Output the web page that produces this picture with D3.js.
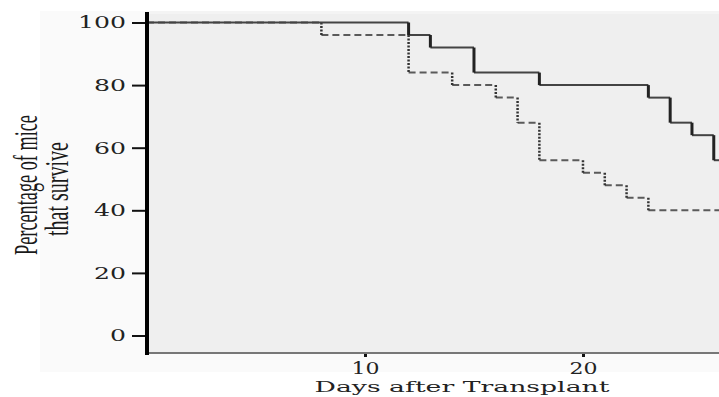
<!DOCTYPE html>
<html>
<head>
<meta charset="utf-8">
<script src="https://cdn.jsdelivr.net/npm/d3@7"></script>
<style>
  html, body { margin: 0; padding: 0; background: #fff; }
  svg { display: block; }
</style>
</head>
<body>
<div id="chart"></div>
<script>
// survival data (days, % alive)
var solidDays = [0, 12, 13, 15, 18, 23, 24, 25, 26];
var solidSurvival = [100, 96, 92, 84, 80, 76, 68, 64, 56];
var dashedDays = [0, 8, 12, 14, 16, 17, 18, 20, 21, 22, 23];
var dashedSurvival = [100, 96, 84, 80, 76, 68, 56, 52, 48, 44, 40];
var yTicks = [0, 20, 40, 60, 80, 100];
var xTicks = [10, 20];
var xLabel = "Days after Transplant";
var yLabelLines = ["Percentage of mice", "that survive"];

var width = 719,
    height = 397,
    axisX = 147,
    axisY = 353,
    plotTop = 11,
    maxDay = 26.24;

var svg = d3.select("#chart")
  .append("svg")
  .attr("width", width)
  .attr("height", height);

var xScale = d3.scaleLinear().domain([0, maxDay]).range([axisX, width]);
var yScale = d3.scaleLinear().domain([0, 100]).range([335.5, 22.5]);

// faint outer panel + grey plot area
svg.append("rect")
  .attr("x", 40).attr("y", plotTop)
  .attr("width", width - 40).attr("height", 361)
  .style("fill", "#fafafa");
svg.append("rect")
  .attr("x", axisX).attr("y", plotTop)
  .attr("width", width - axisX).attr("height", axisY - plotTop)
  .style("fill", "#f4f4f4");
svg.append("rect")
  .attr("x", axisX).attr("y", plotTop + 3)
  .attr("width", width - axisX).attr("height", axisY - plotTop - 3)
  .style("fill", "#efefef");

// split a step curve into horizontal + vertical pieces
function steps(days, vals) {
  var h = [], v = [];
  for (var i = 0; i < days.length; i++) {
    var end = i < days.length - 1 ? days[i + 1] : maxDay;
    h.push({x0: days[i], x1: end, y: vals[i]});
    if (i < days.length - 1) v.push({x: days[i + 1], y0: vals[i], y1: vals[i + 1]});
  }
  return {h: h, v: v};
}

function drawCurve(days, vals, hStyle, vStyle) {
  var s = steps(days, vals);
  var g = svg.append("g");
  g.selectAll(".h")
    .data(s.h)
    .enter().append("line")
    .attr("x1", d => xScale(d.x0))
    .attr("x2", d => xScale(d.x1))
    .attr("y1", d => yScale(d.y))
    .attr("y2", d => yScale(d.y))
    .style("stroke", hStyle.color)
    .style("stroke-width", hStyle.w)
    .style("stroke-dasharray", hStyle.dash);
  g.selectAll(".v")
    .data(s.v)
    .enter().append("line")
    .attr("x1", d => xScale(d.x))
    .attr("x2", d => xScale(d.x))
    .attr("y1", d => yScale(d.y0))
    .attr("y2", d => yScale(d.y1))
    .style("stroke", vStyle.color)
    .style("stroke-width", vStyle.w)
    .style("stroke-dasharray", vStyle.dash);
}

/* dashed group first, solid on top */
drawCurve(dashedDays, dashedSurvival,
  {color: "#5a5a5a", w: 2, dash: "7,4"},
  {color: "#333", w: 2.5, dash: "2,1.5"});
drawCurve(solidDays, solidSurvival,
  {color: "#444", w: 2, dash: null},
  {color: "#222", w: 3, dash: null});

// X axis
var xAxis = d3.axisBottom(xScale).tickValues(xTicks).tickSize(4).tickSizeOuter(0);
var gx = svg.append("g")
  .attr("transform", `translate(0,${axisY})`)
  .call(xAxis);
gx.select(".domain").remove();
gx.selectAll(".tick line").style("stroke", "#111").style("stroke-width", 3);
gx.selectAll(".tick text")
  .attr("y", 21).attr("dy", 0)
  .attr("textLength", 28).attr("lengthAdjust", "spacingAndGlyphs")
  .style("font-family", "'DejaVu Serif', serif").style("font-size", "16px")
  .style("fill", "#222");
svg.append("line")
  .attr("x1", axisX).attr("x2", width)
  .attr("y1", axisY).attr("y2", axisY)
  .style("stroke", "#777").style("stroke-width", 2);

// Y axis
var yAxis = d3.axisLeft(yScale).tickValues(yTicks).tickSize(15).tickSizeOuter(0);
var gy = svg.append("g")
  .attr("transform", `translate(${axisX},0)`)
  .call(yAxis);
gy.select(".domain").remove();
gy.selectAll(".tick line").style("stroke", "#111").style("stroke-width", 2);
gy.selectAll(".tick text")
  .attr("x", -21)
  .attr("textLength", d => String(d).length * 16)
  .attr("lengthAdjust", "spacingAndGlyphs")
  .style("font-family", "'DejaVu Serif', serif").style("font-size", "17px")
  .style("fill", "#222");
svg.append("line")
  .attr("x1", axisX).attr("x2", axisX)
  .attr("y1", plotTop + 1).attr("y2", axisY + 2)
  .style("stroke", "#000").style("stroke-width", 4);

// axis titles
svg.append("text")
  .attr("x", 462).attr("y", 392)
  .attr("text-anchor", "middle")
  .attr("textLength", 295).attr("lengthAdjust", "spacingAndGlyphs")
  .style("font-family", "'DejaVu Serif', serif").style("font-size", "15px")
  .style("fill", "#222")
  .text(xLabel);

// y title: tall narrow serif, squeezed along the text direction
var yLab = [{x: 37, y: 185, len: 140}, {x: 68, y: 189, len: 94}];
yLabelLines.forEach((t, i) => {
  var txt = svg.append("text")
    .attr("text-anchor", "middle")
    .style("font-family", "'Liberation Serif', 'Times New Roman', serif")
    .style("font-size", "33px")
    .style("fill", "#1a1a1a")
    .text(t);
  var sx = yLab[i].len / txt.node().getComputedTextLength();
  txt.attr("transform", `translate(${yLab[i].x},${yLab[i].y}) rotate(-90) scale(${sx},1)`);
});
</script>
</body>
</html>
